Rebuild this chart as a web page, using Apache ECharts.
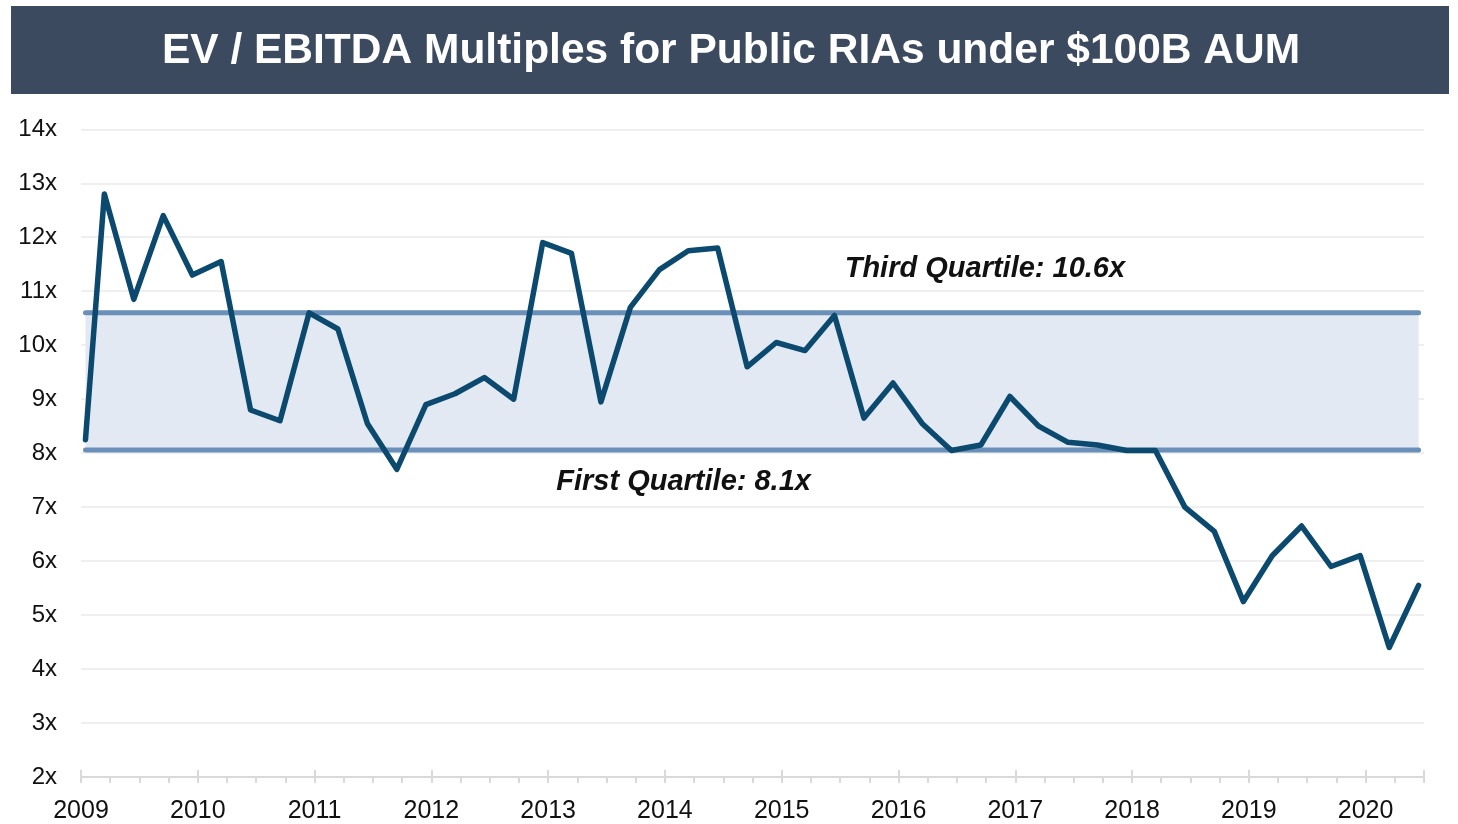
<!DOCTYPE html>
<html>
<head>
<meta charset="utf-8">
<title>EV / EBITDA Multiples</title>
<script src="https://cdn.jsdelivr.net/npm/echarts@6/dist/echarts.min.js"></script>
<style>
  html, body { margin: 0; padding: 0; background: #fff; }
  #chart { width: 1458px; height: 824px; }
</style>
</head>
<body>
<div id="chart"></div>
<script>
// quarterly observations (mid-month of quarter end)
const dates = [
  "2009-01-15", "2009-03-15", "2009-06-15", "2009-09-15", "2009-12-15",
  "2010-03-15", "2010-06-15", "2010-09-15", "2010-12-15",
  "2011-03-15", "2011-06-15", "2011-09-15", "2011-12-15",
  "2012-03-15", "2012-06-15", "2012-09-15", "2012-12-15",
  "2013-03-15", "2013-06-15", "2013-09-15", "2013-12-15",
  "2014-03-15", "2014-06-15", "2014-09-15", "2014-12-15",
  "2015-03-15", "2015-06-15", "2015-09-15", "2015-12-15",
  "2016-03-15", "2016-06-15", "2016-09-15", "2016-12-15",
  "2017-03-15", "2017-06-15", "2017-09-15", "2017-12-15",
  "2018-03-15", "2018-06-15", "2018-09-15", "2018-12-15",
  "2019-03-15", "2019-06-15", "2019-09-15", "2019-12-15",
  "2020-03-15", "2020-06-15"
];
const multiples = [
  8.25, 12.8, 10.85, 12.4, 11.3,
  11.55, 8.8, 8.6, 10.6,
  10.3, 8.55, 7.7, 8.9,
  9.1, 9.4, 9.0, 11.9,
  11.7, 8.95, 10.7, 11.4,
  11.75, 11.8, 9.6, 10.05,
  9.9, 10.55, 8.65, 9.3,
  8.55, 8.05, 8.15, 9.05,
  8.5, 8.2, 8.15, 8.05,
  8.05, 7.0, 6.55, 5.25,
  6.1, 6.65, 5.9, 6.1,
  4.4, 5.55
];
const firstQuartile = 8.06;
const thirdQuartile = 10.6;
const yearTicks = [2009, 2020.5];   // axis range
const yRange = [2, 14];

const titleText = "EV / EBITDA Multiples for Public RIAs under $100B AUM";
const font = "'Liberation Sans', Arial, Helvetica, sans-serif";

function toYear(s) {
  let d = new Date(s + "T00:00:00Z");
  let y = d.getUTCFullYear();
  let start = Date.UTC(y, 0, 1);
  let end = Date.UTC(y + 1, 0, 1);
  return y + (d.getTime() - start) / (end - start);
}

let seriesData = [];
for (let i = 0; i < dates.length; i++) {
  seriesData.push([toYear(dates[i]), multiples[i]]);
}
let x0 = seriesData[0][0];
let x1 = seriesData[seriesData.length - 1][0];

let myChart = echarts.init(document.getElementById("chart"));

let option = {
  animation: false,
  backgroundColor: "#fff",
  graphic: [
    {
      type: "rect",
      shape: { x: 11, y: 6, width: 1438, height: 88 },
      style: { fill: "#3b4a5f" },
      z: 0
    },
    {
      type: "text",
      x: 731,
      y: 51,
      style: {
        text: titleText,
        fill: "#fff",
        font: "bold 42.5px " + font,
        textAlign: "center",
        textVerticalAlign: "middle"
      },
      z: 1
    }
  ],
  grid: {
    left: 81,
    right: 34,
    top: 129.3,
    bottom: 45.5,
    containLabel: false
  },
  xAxis: [
    {
      type: "value",
      position: "bottom",
      min: yearTicks[0],
      max: yearTicks[1],
      interval: 0.25,
      axisLine: { show: true, lineStyle: { color: "#d9d9d9", width: 2 } },
      axisTick: { show: true, length: 6, lineStyle: { color: "#d9d9d9", width: 2 } },
      splitLine: { show: false },
      axisLabel: {
        show: true,
        interval: 0,
        hideOverlap: false,
        margin: 22,
        color: "#111",
        fontSize: 25,
        fontFamily: font,
        formatter: function (v) {
          return v % 1 === 0 ? String(v) : "";
        }
      }
    },
    {
      type: "value",
      position: "bottom",
      min: yearTicks[0],
      max: yearTicks[1],
      interval: 1,
      axisLine: { show: false },
      axisTick: { show: true, inside: true, length: 7, lineStyle: { color: "#d9d9d9", width: 2 } },
      splitLine: { show: false },
      axisLabel: { show: false }
    }
  ],
  yAxis: {
    type: "value",
    min: yRange[0],
    max: yRange[1],
    interval: 1,
    axisLine: { show: false },
    axisTick: { show: false },
    splitLine: { show: true, lineStyle: { color: "#efefef", width: 2 } },
    axisLabel: {
      margin: 24,
      color: "#111",
      fontSize: 24,
      fontFamily: font,
      formatter: "{value}x"
    }
  },
  series: [
    {
      name: "Third Quartile",
      type: "line",
      xAxisIndex: 0,
      z: 2,
      symbol: "none",
      silent: true,
      data: [[x0, thirdQuartile], [x1, thirdQuartile]],
      lineStyle: { color: "#6a8fb9", width: 5, cap: "round" },
      markArea: {
        silent: true,
        itemStyle: { color: "#e2e9f2" },
        data: [[{ coord: [x0, thirdQuartile] }, { coord: [x1, firstQuartile] }]]
      },
      markPoint: {
        symbol: "circle",
        symbolSize: 0,
        silent: true,
        label: {
          show: true,
          position: "inside",
          color: "#111",
          fontSize: 29,
          fontWeight: "bold",
          fontStyle: "italic",
          fontFamily: font,
          formatter: function (p) { return p.name; }
        },
        data: [
          { name: "Third Quartile: " + thirdQuartile.toFixed(1) + "x", coord: [2016.74, 11.41] },
          { name: "First Quartile: " + firstQuartile.toFixed(1) + "x", coord: [2014.16, 7.46] }
        ]
      }
    },
    {
      name: "First Quartile",
      type: "line",
      xAxisIndex: 0,
      z: 2,
      symbol: "none",
      silent: true,
      data: [[x0, firstQuartile], [x1, firstQuartile]],
      lineStyle: { color: "#6a8fb9", width: 5, cap: "round" }
    },
    {
      name: "EV / EBITDA",
      type: "line",
      xAxisIndex: 0,
      z: 5,
      symbol: "none",
      data: seriesData,
      lineStyle: { color: "#0b4a6e", width: 5.5, cap: "round", join: "round" }
    }
  ]
};
myChart.setOption(option, true);
</script>
</body>
</html>
